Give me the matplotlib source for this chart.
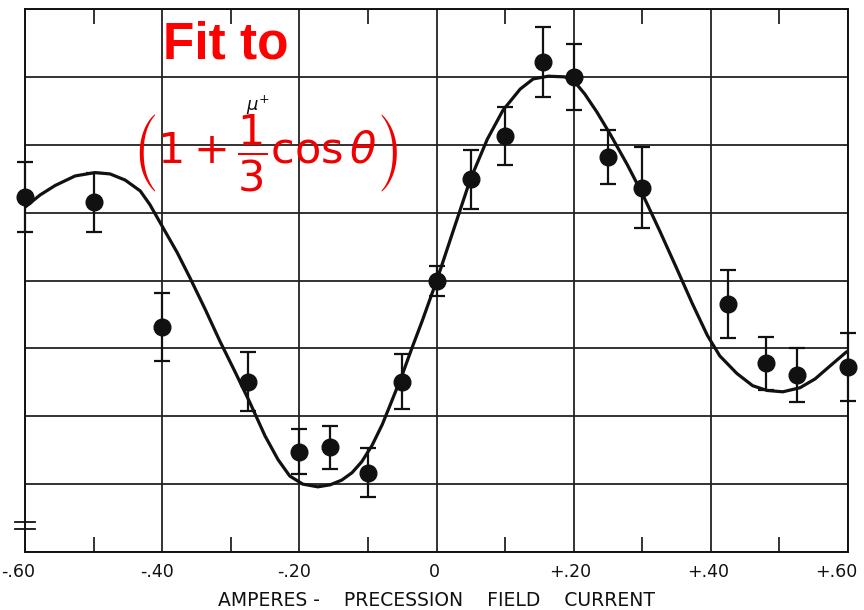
"""Muon precession: counting rate vs. precession field current, with fit curve."""

import numpy as np
from matplotlib import pyplot as plt
from matplotlib import transforms
from matplotlib.ticker import FixedLocator, NullFormatter

# measured points (amperes, counting rate in grid units)
current = [-0.60, -0.50, -0.40, -0.275, -0.20, -0.155, -0.10, -0.05, 0.00,
           0.05, 0.10, 0.155, 0.20, 0.25, 0.30, 0.425, 0.48, 0.525, 0.60]
rate = [5.23, 5.15, 3.32, 2.51, 1.48, 1.54, 1.17, 2.51, 3.99,
        5.49, 6.13, 7.22, 7.00, 5.82, 5.37, 3.66, 2.78, 2.61, 2.72]
rate_err = [0.52, 0.44, 0.50, 0.44, 0.33, 0.31, 0.36, 0.40, 0.22,
            0.43, 0.43, 0.51, 0.49, 0.40, 0.59, 0.50, 0.39, 0.40, 0.50]

# fitted curve
fit_current = [-0.600, -0.578, -0.556, -0.527, -0.498, -0.476, -0.454, -0.432,
               -0.418, -0.400, -0.378, -0.359, -0.337, -0.316, -0.294, -0.272,
               -0.250, -0.231, -0.214, -0.195, -0.173, -0.155, -0.138, -0.123,
               -0.109, -0.094, -0.079, -0.065, -0.050, -0.036, -0.021, 0.001,
               0.024, 0.049, 0.074, 0.097, 0.122, 0.141, 0.163, 0.187, 0.202,
               0.216, 0.234, 0.253, 0.278, 0.301, 0.326, 0.351, 0.373, 0.395,
               0.413, 0.438, 0.461, 0.482, 0.505, 0.530, 0.552, 0.576, 0.598]
fit_rate = [5.08, 5.26, 5.40, 5.54, 5.59, 5.57, 5.48, 5.32,
            5.12, 4.80, 4.41, 4.03, 3.57, 3.11, 2.66, 2.20,
            1.71, 1.36, 1.12, 1.00, 0.96, 0.99, 1.06, 1.17,
            1.33, 1.57, 1.88, 2.23, 2.61, 3.00, 3.40, 4.02,
            4.72, 5.48, 6.08, 6.51, 6.82, 6.97, 7.01, 7.00, 6.92,
            6.75, 6.48, 6.16, 5.71, 5.26, 4.72, 4.16, 3.66, 3.19,
            2.89, 2.63, 2.45, 2.38, 2.36, 2.42, 2.55, 2.76, 2.95]

major_ticks = [-0.6, -0.4, -0.2, 0.0, 0.2, 0.4, 0.6]
major_labels = ["-.60", "-.40", "-.20", "0", "+.20", "+.40", "+.60"]
minor_ticks = [-0.5, -0.3, -0.1, 0.1, 0.3, 0.5]

ink = "#111111"

fig = plt.figure(figsize=(8.64, 6.10), dpi=100)
ax = fig.add_axes([25 / 864, 1 - 552 / 610, 823 / 864, 543 / 610])

ax.plot(fit_current, fit_rate, color=ink, lw=2.3, zorder=3,
        solid_joinstyle="round", solid_capstyle="round")
ax.errorbar(current, rate, yerr=rate_err, fmt="o", color=ink, ms=12,
            elinewidth=1.6, capsize=5.5, capthick=1.6, clip_on=False, zorder=4)

ax.set_xlim(-0.6, 0.6)
ax.set_ylim(0, 8)
ax.xaxis.set_major_locator(FixedLocator(major_ticks))
ax.set_xticklabels(major_labels)
ax.xaxis.set_minor_locator(FixedLocator(minor_ticks))
ax.xaxis.set_minor_formatter(NullFormatter())
ax.set_yticks(np.arange(0, 9))
ax.set_yticklabels([])
ax.tick_params(axis="x", which="major", length=0, pad=8, labelsize=12.5,
               colors=ink)
ax.tick_params(axis="x", which="minor", direction="in", length=11, width=1.2,
               top=True, bottom=True, colors=ink)
ax.tick_params(axis="y", length=0)
ax.grid(True, which="major", color="#222222", lw=1.3)
ax.set_axisbelow(True)
for spine in ax.spines.values():
    spine.set_color(ink)
    spine.set_linewidth(1.4)

# the scanned labels sit a little left of their grid lines
shifts = [-7, -5, -5, -2, -3, -3, -12]
for label, dx in zip(ax.get_xticklabels(), shifts):
    label.set_transform(label.get_transform() + transforms.ScaledTranslation(
        dx / 100, 0, fig.dpi_scale_trans))

ax.set_xlabel("AMPERES -    PRECESSION    FIELD    CURRENT", fontsize=13.5,
              color=ink, labelpad=7)

# small break mark at the lower left of the original plot
ax.plot([-0.012, 0.012], [0.055, 0.055], transform=ax.transAxes, color=ink,
        lw=1.3, clip_on=False)
ax.plot([-0.012, 0.012], [0.042, 0.042], transform=ax.transAxes, color=ink,
        lw=1.3, clip_on=False)

# original curve label, partly hidden behind the red formula as in the scan
ax.text(0.283, 0.822, r"$\mu^{+}$", transform=ax.transAxes, fontsize=13,
        color=ink, ha="center", va="center", zorder=1)

# red annotation
ax.text(0.244, 0.933, "Fit to", transform=ax.transAxes, color="#ff0000",
        fontsize=37, fontweight="bold", family="Liberation Sans",
        ha="center", va="center")
ax.text(0.292, 0.735, r"$\left(1+\dfrac{1}{3}\cos\theta\right)$",
        transform=ax.transAxes, color="#f00000", fontsize=31,
        ha="center", va="center", math_fontfamily="dejavusans", zorder=5)

fig.savefig("out.png", dpi=100)
